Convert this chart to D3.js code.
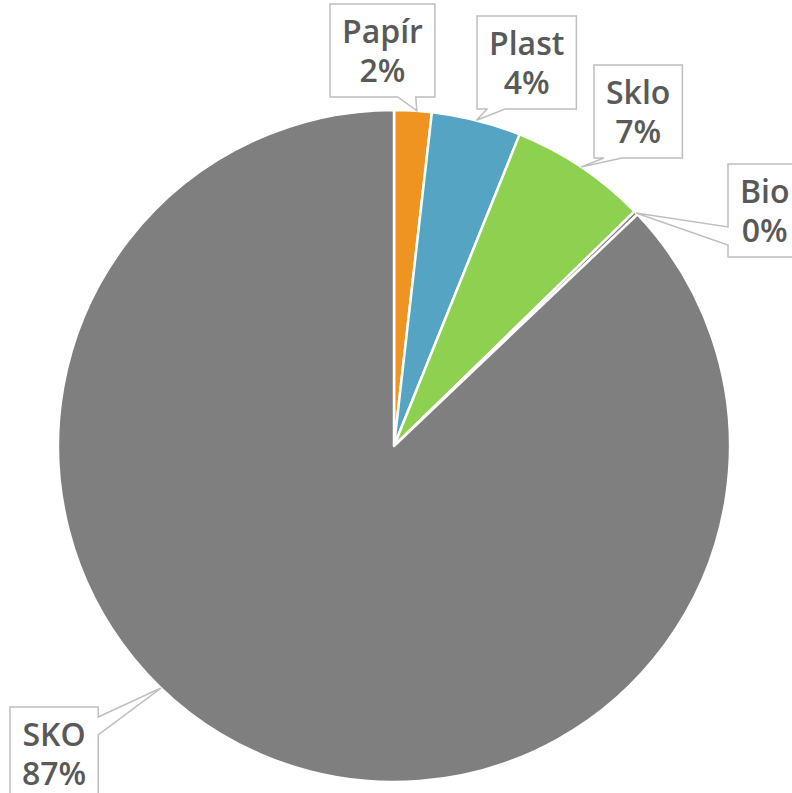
<!DOCTYPE html>
<html>
<head>
<meta charset="utf-8">
<title>Pie</title>
<script src="https://d3js.org/d3.v7.min.js"></script>
<style>
  body { margin:0; background:#fff; }
  .lbl { font-family:"Open Sans", sans-serif; font-weight:600; font-size:32px; fill:#595959; }
</style>
</head>
<body>
<svg id="chart" width="792" height="793"></svg>
<script>
"use strict";

// data
const categories = ["Papír", "Plast", "Sklo", "Bio", "SKO"];
const values     = [1.8, 4.3, 6.6, 0.2, 87.1];
const shownPct   = ["2%", "4%", "7%", "0%", "87%"];
const colors     = ["#EF9421", "#55A4C4", "#8ED04F", "#7F7F7F", "#7F7F7F"];

// label box layout (top-left corner) and where along the slice the pointer lands
const boxPos   = [[330, 4], [477, 16], [594, 65], [728, 164], [10, 707]];
const tipFrac  = [0.6, 0.5, 0.5, 0.5, 0.566];

const svg = d3.select("#chart");
const cx = 394, cy = 446, r = 336;

const pie = d3.pie().sort(null).value(d => d.v);
const data = categories.map((c, i) => ({ name: c, v: values[i], pct: shownPct[i], color: colors[i] }));
const arcs = pie(data);

const arc = d3.arc().innerRadius(0).outerRadius(r);

const g = svg.append("g").attr("transform", `translate(${cx},${cy})`);
g.selectAll("path")
  .data(arcs)
  .enter().append("path")
  .attr("d", arc)
  .attr("fill", d => d.data.color)
  .attr("stroke", "#fff")
  .attr("stroke-width", 2.5)
  .attr("stroke-linejoin", "round");

// callouts
const labels = svg.append("g");
arcs.forEach((a, i) => {
  const ang = a.startAngle + (a.endAngle - a.startAngle) * tipFrac[i];
  const tx = cx + r * Math.sin(ang), ty = cy - r * Math.cos(ang);

  const grp = labels.append("g");
  const t1 = grp.append("text").attr("class", "lbl").text(a.data.name);
  const t2 = grp.append("text").attr("class", "lbl").text(a.data.pct);
  const w = Math.max(t1.node().getComputedTextLength(), t2.node().getComputedTextLength()) + 24;
  const h = 93;
  const [x0, y0] = boxPos[i];
  const x1 = x0 + w, y1 = y0 + h;
  const mid = x0 + w / 2;
  t1.attr("x", mid).attr("y", y0 + 39).attr("text-anchor", "middle");
  t2.attr("x", mid).attr("y", y0 + 78).attr("text-anchor", "middle");

  // pick the side facing the tip and build the bubble outline
  const bw = 18;
  let pts;
  if (ty > y1) {
    const bx = Math.max(x0 + 10, Math.min(x1 - 10 - bw, tx - bw / 2 - 10));
    pts = [[x0, y0], [x1, y0], [x1, y1], [bx + bw, y1], [tx, ty], [bx, y1], [x0, y1]];
  } else if (tx < x0) {
    const by = Math.max(y0 + 10, Math.min(y1 - 10 - bw, ty + 14));
    pts = [[x0, y0], [x1, y0], [x1, y1], [x0, y1], [x0, by + bw], [tx, ty], [x0, by]];
  } else {
    const by = Math.max(y0 + 10, Math.min(y1 - 10 - bw, ty - bw - 4));
    pts = [[x0, y0], [x1, y0], [x1, by], [tx, ty], [x1, by + bw], [x1, y1], [x0, y1]];
  }
  grp.insert("path", "text")
    .attr("d", d3.line()(pts) + "Z")
    .attr("fill", "#fff")
    .attr("stroke", "#BFBFBF")
    .attr("stroke-width", 1.5);
});
</script>
</body>
</html>
